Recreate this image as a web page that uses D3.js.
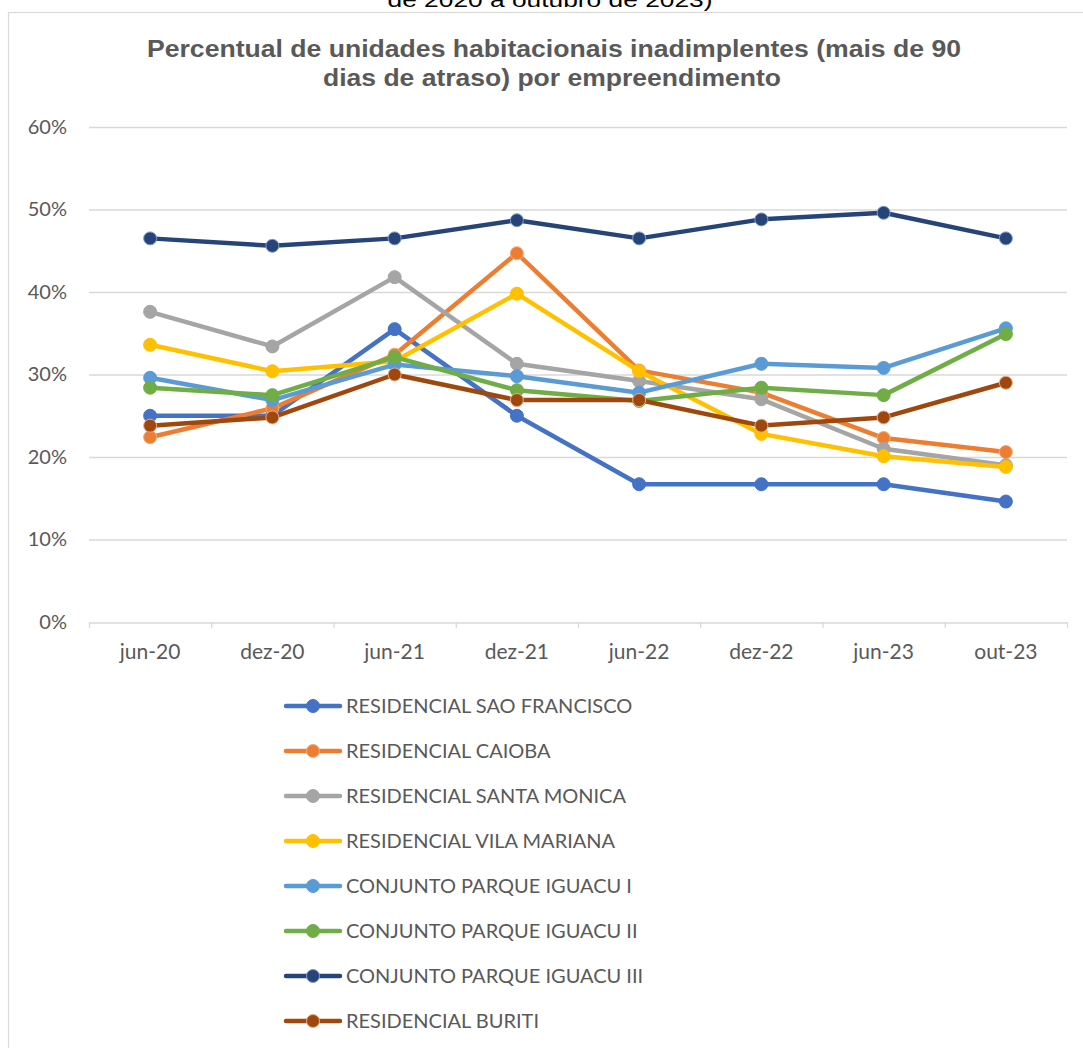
<!DOCTYPE html>
<html><head><meta charset="utf-8">
<script src="https://cdn.jsdelivr.net/npm/d3@7"></script>
<style>body{margin:0;background:#fff;}svg{display:block;}</style>
</head><body>
<svg id="c" width="1083" height="1048"></svg>
<script>
const categories = ["jun-20","dez-20","jun-21","dez-21","jun-22","dez-22","jun-23","out-23"];
const seriesNames = ["RESIDENCIAL SAO FRANCISCO","RESIDENCIAL CAIOBA","RESIDENCIAL SANTA MONICA","RESIDENCIAL VILA MARIANA","CONJUNTO PARQUE IGUACU I","CONJUNTO PARQUE IGUACU II","CONJUNTO PARQUE IGUACU III","RESIDENCIAL BURITI"];
const saoFrancisco = [25.0,25.0,35.5,25.0,16.7,16.7,16.7,14.6];
const caioba       = [22.4,25.9,32.4,44.7,30.5,27.8,22.3,20.6];
const santaMonica  = [37.6,33.4,41.8,31.3,29.2,27.0,21.0,19.0];
const vilaMariana  = [33.6,30.4,31.6,39.8,30.4,22.8,20.1,18.8];
const iguacuI      = [29.6,26.9,31.2,29.8,27.8,31.3,30.8,35.6];
const iguacuII     = [28.4,27.5,32.1,28.1,26.8,28.4,27.5,34.9];
const iguacuIII    = [46.5,45.6,46.5,48.7,46.5,48.8,49.6,46.5];
const buriti       = [23.8,24.8,30.0,26.9,26.9,23.8,24.8,29.0];
const yTicks = [0,10,20,30,40,50,60];
const colors = ["#4472C4","#ED7D31","#A5A5A5","#FFC000","#5B9BD5","#70AD47","#264478","#9E480E"];
const strokes = ["#4472C4","#F4A97A","#A5A5A5","#FFC000","#5B9BD5","#70AD47","#7F9BD0","#F0A98A"];
const allSeries = [saoFrancisco,caioba,santaMonica,vilaMariana,iguacuI,iguacuII,iguacuIII,buriti];

const svg = d3.select("#c");
const txt = "#595959";
const font = "Lato, 'Open Sans', sans-serif";
const arial = "'Liberation Sans', Arial, sans-serif";

// chart border
svg.append("rect").attr("x",8.5).attr("y",12.5).attr("width",1200).attr("height",1200)
  .attr("fill","none").attr("stroke","#d9d9d9").attr("stroke-width",1.2);

// clipped text above (cut at top edge as in the reference)
svg.append("text").attr("x",550).attr("y",7).attr("text-anchor","middle")
  .attr("font-family",arial).attr("font-size",21).attr("fill","#000")
  .attr("textLength",325).attr("lengthAdjust","spacingAndGlyphs")
  .text("de 2020 a outubro de 2023)");

// title
svg.append("text").attr("text-anchor","middle").attr("x",554).attr("y",57)
  .attr("font-family",arial).attr("font-weight","bold").attr("font-size",23).attr("fill",txt)
  .attr("textLength",814).attr("lengthAdjust","spacingAndGlyphs")
  .text("Percentual de unidades habitacionais inadimplentes (mais de 90");
svg.append("text").attr("text-anchor","middle").attr("x",552).attr("y",86)
  .attr("font-family",arial).attr("font-weight","bold").attr("font-size",23).attr("fill",txt)
  .attr("textLength",458).attr("lengthAdjust","spacingAndGlyphs")
  .text("dias de atraso) por empreendimento");

const x = d3.scaleBand().domain(categories).range([89,1067]);
const y = d3.scaleLinear().domain([0,60]).range([622,127]);

// gridlines
svg.append("g").selectAll("line").data(yTicks.filter(d=>d>0)).join("line")
  .attr("x1",89).attr("x2",1067).attr("y1",d=>y(d)+0.5).attr("y2",d=>y(d)+0.5)
  .attr("stroke","#d9d9d9").attr("stroke-width",1.3);

// y axis labels
const yAxis = svg.append("g").attr("transform","translate(89,0)")
  .call(d3.axisLeft(y).tickValues(yTicks).tickFormat(d=>d+"%").tickSize(0).tickPadding(22));
yAxis.select(".domain").remove();
yAxis.selectAll("text").attr("font-family",font).attr("font-size",20).attr("fill",txt);

// x axis
const xAxis = svg.append("g").attr("transform","translate(0,"+(y(0)+0.5)+")")
  .call(d3.axisBottom(x).tickSize(0).tickPadding(22));
xAxis.select(".domain").attr("stroke","#d9d9d9").attr("stroke-width",1.3);
xAxis.selectAll("text").attr("font-family",font).attr("font-size",21).attr("fill",txt);
svg.append("g").selectAll("line").data(d3.range(categories.length+1)).join("line")
  .attr("x1",i=>89+i*x.step()+0.5).attr("x2",i=>89+i*x.step()+0.5)
  .attr("y1",y(0)).attr("y2",y(0)+6).attr("stroke","#d9d9d9").attr("stroke-width",1.3);

const cx = c => x(c)+x.bandwidth()/2;
const line = d3.line().x((d,i)=>cx(categories[i])).y(d=>y(d));

allSeries.forEach((s,k)=>{
  const g = svg.append("g");
  g.append("path").datum(s).attr("d",line).attr("fill","none")
    .attr("stroke",colors[k]).attr("stroke-width",4.5).attr("stroke-linejoin","round").attr("stroke-linecap","round");
  g.selectAll("circle").data(s).join("circle")
    .attr("cx",(d,i)=>cx(categories[i])).attr("cy",d=>y(d)).attr("r",6.5)
    .attr("fill",colors[k]).attr("stroke",strokes[k]).attr("stroke-width",1);
});

// legend
const lg = svg.append("g");
seriesNames.forEach((n,k)=>{
  const ly = 706 + k*45;
  lg.append("line").attr("x1",286).attr("x2",340).attr("y1",ly).attr("y2",ly)
    .attr("stroke",colors[k]).attr("stroke-width",4.5).attr("stroke-linecap","round");
  lg.append("circle").attr("cx",313).attr("cy",ly).attr("r",6.5)
    .attr("fill",colors[k]).attr("stroke",strokes[k]).attr("stroke-width",1);
  lg.append("text").attr("x",346).attr("y",ly).attr("dy","0.35em")
    .attr("font-family",font).attr("font-size",20).attr("fill",txt).text(n);
});
</script>
</body></html>
